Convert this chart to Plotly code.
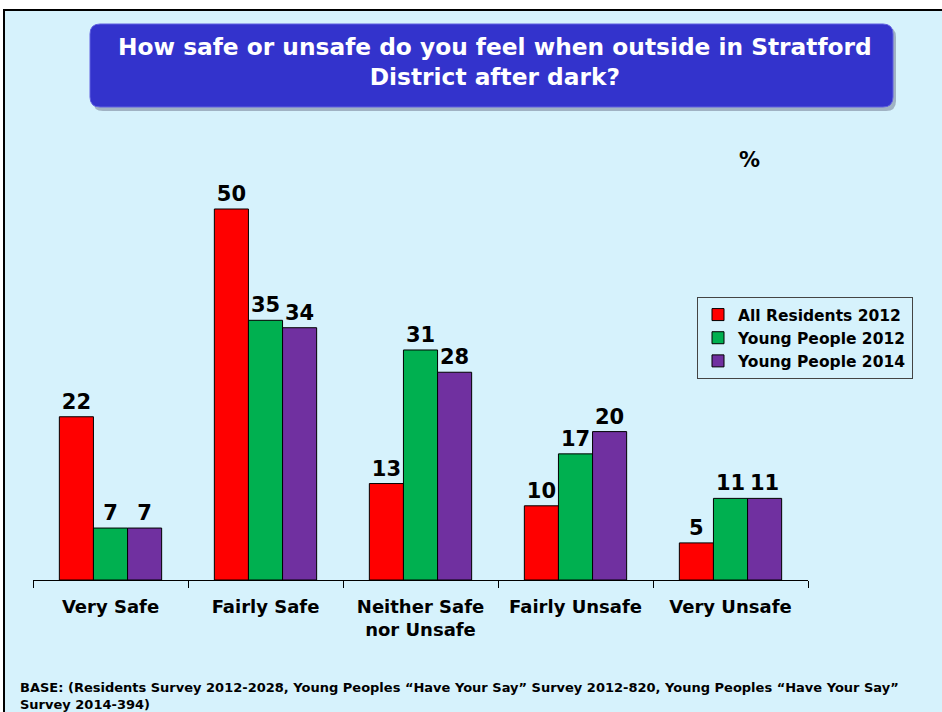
import plotly.graph_objects as go

categories = ["Very Safe", "Fairly Safe", "Neither Safe<br>nor Unsafe", "Fairly Unsafe", "Very Unsafe"]
series_names = ["All Residents 2012", "Young People 2012", "Young People 2014"]
all_residents_2012 = [22, 50, 13, 10, 5]
young_people_2012 = [7, 35, 31, 17, 11]
young_people_2014 = [7, 34, 28, 20, 11]
colors = ["#ff0000", "#00b050", "#7030a0"]

W, H = 942, 712
L, R, T, B = 33, 134, 150, 132
PW, PH = W - L - R, H - T - B

def px(x):
    return (x - L) / PW

def py(y):
    return (H - B - y) / PH

FONT = "DejaVu Sans"
BG = "#d6f2fc"

fig = go.Figure()
for name, vals, c in zip(series_names, [all_residents_2012, young_people_2012, young_people_2014], colors):
    fig.add_trace(go.Bar(
        x=categories, y=vals, name=name,
        marker=dict(color=c, line=dict(color="black", width=1)),
        text=[str(v) for v in vals], textposition="outside",
        textfont=dict(family=FONT, size=21, color="black", weight="bold"),
        cliponaxis=False,
    ))

def rounded(x0, y0, x1, y1, r):
    def P(x, y):
        return f"{px(x)},{py(y)}"
    return (f"M {P(x0+r, y0)} L {P(x1-r, y0)} Q {P(x1, y0)} {P(x1, y0+r)} "
            f"L {P(x1, y1-r)} Q {P(x1, y1)} {P(x1-r, y1)} L {P(x0+r, y1)} "
            f"Q {P(x0, y1)} {P(x0, y1-r)} L {P(x0, y0+r)} Q {P(x0, y0)} {P(x0+r, y0)} Z")

shapes = [
    dict(type="rect", xref="paper", yref="paper", x0=px(4), x1=px(960), y0=py(10), y1=py(730),
         fillcolor=BG, line=dict(color="black", width=2), layer="below"),
    dict(type="path", xref="paper", yref="paper", path=rounded(93, 27, 896, 111, 10),
         fillcolor="rgba(60,60,90,0.35)", line=dict(width=0), layer="below"),
    dict(type="path", xref="paper", yref="paper", path=rounded(90, 24, 893, 107, 10),
         fillcolor="#3333cc", line=dict(color="#6060e0", width=1), layer="below"),
]

annotations = [
    dict(text="How safe or unsafe do you feel when outside in Stratford<br>District after dark?",
         xref="paper", yref="paper", x=px(495), y=py(62), xanchor="center", yanchor="middle",
         showarrow=False, font=dict(family=FONT, size=23.3, color="white", weight="bold")),
    dict(text="%", xref="paper", yref="paper", x=px(749), y=py(160), xanchor="center", yanchor="middle",
         showarrow=False, font=dict(family=FONT, size=21, color="black", weight="bold")),
    dict(text="BASE: (Residents Survey 2012-2028, Young Peoples “Have Your Say” Survey 2012-820, Young Peoples “Have Your Say”<br>Survey 2014-394)",
         xref="paper", yref="paper", x=px(18), y=py(678), xanchor="left", yanchor="top", align="left",
         showarrow=False, font=dict(family=FONT, size=13, color="black", weight="bold")),
]

fig.update_layout(
    width=W, height=H,
    margin=dict(l=L, r=R, t=T, b=B),
    paper_bgcolor="white", plot_bgcolor="rgba(0,0,0,0)",
    barmode="group", bargap=0.34, bargroupgap=0,
    showlegend=True,
    legend=dict(x=px(697), y=py(297), xanchor="left", yanchor="top",
                bgcolor="rgba(0,0,0,0)", bordercolor="#444", borderwidth=1,
                font=dict(family=FONT, size=15.5, color="black", weight="bold"),
                itemwidth=30, tracegroupgap=0),
    shapes=shapes, annotations=annotations,
    xaxis=dict(showline=True, linecolor="black", linewidth=1, ticks="outside", tickson="boundaries",
               ticklen=7, tickcolor="black", showgrid=False,
               tickfont=dict(family=FONT, size=18, color="black", weight="bold"),
               ticklabelstandoff=10),
    yaxis=dict(visible=False, range=[0, PH / 7.42]),
    font=dict(family=FONT),
)

fig.write_html("out.html", post_script="document.body.style.margin='0';",
               config={"displayModeBar": False})
